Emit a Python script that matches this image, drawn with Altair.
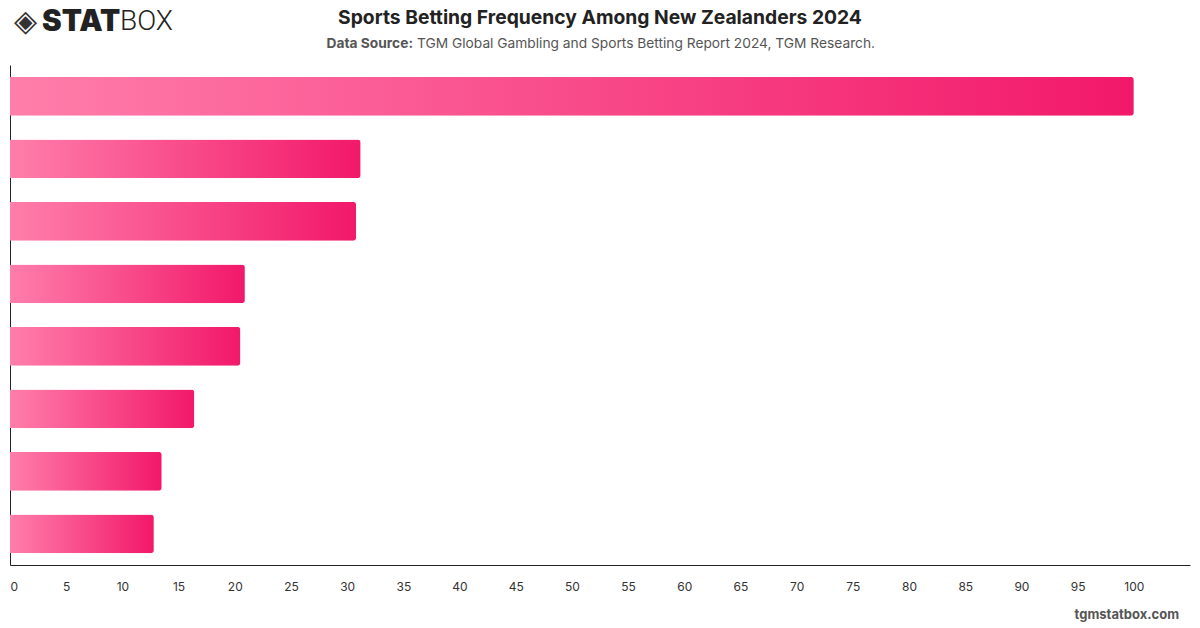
import altair as alt
import pandas as pd

categories = ["Cat A", "Cat B", "Cat C", "Cat D", "Cat E", "Cat F", "Cat G", "Cat H"]
values = [100, 31.2, 30.8, 20.9, 20.5, 16.4, 13.5, 12.8]
x_ticks = list(range(0, 101, 5))

df = pd.DataFrame({"category": categories, "value": values})

FONT = "Inter"

bars = alt.Chart(df).mark_bar(
    cornerRadiusEnd=3,
    color=alt.Gradient(
        gradient="linear",
        stops=[alt.GradientStop(color="#ff7eaa", offset=0),
               alt.GradientStop(color="#f2186a", offset=1)],
        x1=0, x2=1, y1=0, y2=0,
    ),
).encode(
    x=alt.X("value:Q",
            scale=alt.Scale(domain=[0, 105], nice=False),
            axis=alt.Axis(values=x_ticks, title=None, grid=False, ticks=False,
                          labelPadding=16, labelFontSize=12, labelColor="#333333",
                          labelFont=FONT, domainColor="#222222", domainWidth=1)),
    y=alt.Y("category:N", sort=categories,
            scale=alt.Scale(paddingInner=0.38, paddingOuter=0.19),
            axis=alt.Axis(title=None, labels=False, ticks=False, grid=False,
                          domainColor="#222222", domainWidth=1)),
)

def txt(t, x, y, size, weight="normal", color="#222222", align="left", font=FONT):
    return alt.Chart(pd.DataFrame({"t": [t]})).mark_text(
        align=align, baseline="middle", fontSize=size, fontWeight=weight,
        color=color, font=font,
    ).encode(x=alt.value(x), y=alt.value(y), text="t:N")

title = txt("Sports Betting Frequency Among New Zealanders 2024", 590, -47, 19.3, "bold", "#222222", "center")
sub1 = txt("Data Source:", 403, -21, 13.75, "bold", "#555555", "right")
sub2 = txt("TGM Global Gambling and Sports Betting Report 2024, TGM Research.", 407, -21, 13.75, "normal", "#555555", "left")
logo_icon = txt("◈", 4, -43, 30, "bold", "#333333", "left", "DejaVu Sans")
logo_stat = txt("STAT", 32, -43, 29.5, 900, "#222222", "left")
logo_box = txt("BOX", 110, -43, 28, 300, "#222222", "left", "Roboto")
footer = txt("tgmstatbox.com", 1169, 550, 13, "bold", "#555555", "right")

chart = alt.layer(bars, title, sub1, sub2, logo_icon, logo_stat, logo_box, footer).properties(
    width=1180, height=500,
    padding={"left": 10, "top": 65, "right": 10, "bottom": 63},
    autosize=alt.AutoSizeParams(type="none"),
    background="white",
).configure_view(stroke=None)

chart.save("out.html", embed_options={"renderer": "svg", "actions": False})
